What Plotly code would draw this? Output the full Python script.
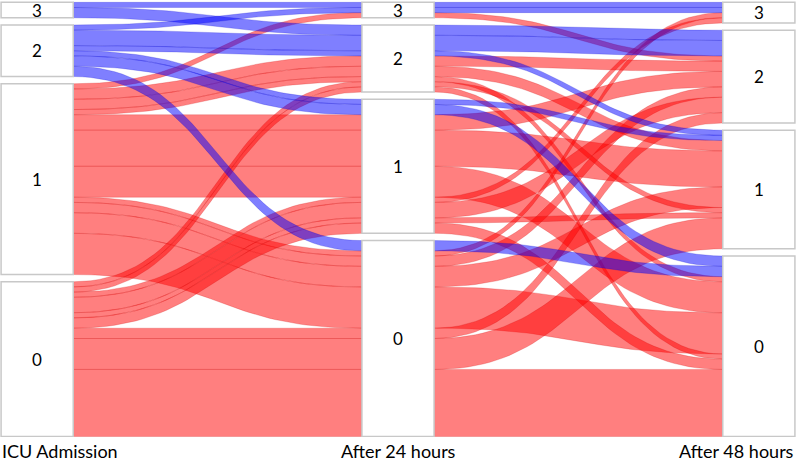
import numpy as np
import plotly.graph_objects as go

# ---------------- data ----------------
categories = ["0", "1", "2", "3"]
dimension_labels = ["ICU Admission", "After 24 hours", "After 48 hours"]

# one entry per patient path: score at admission, after 24 h, after 48 h, number of patients
path_admission = [3, 3, 2, 2, 2, 2, 2, 2, 1, 1, 1, 1, 1, 1, 1, 1, 1, 1, 1, 0, 0, 0, 0, 0, 0, 0, 0, 0]
path_24h       = [3, 2, 3, 2, 2, 1, 1, 0, 3, 2, 2, 2, 1, 1, 1, 0, 0, 0, 0, 2, 2, 1, 1, 1, 1, 0, 0, 0]
path_48h       = [3, 2, 3, 2, 1, 1, 0, 0, 2, 2, 1, 0, 2, 1, 0, 3, 2, 1, 0, 1, 0, 3, 2, 1, 0, 2, 1, 0]
path_count     = [1, 2, 1, 3, 1, 1, 2, 2, 1, 2, 2, 1, 3, 7, 6, 1, 2, 4, 8, 1, 1, 1, 3, 1, 2, 2, 6, 13]

# ---------------- style ----------------
GAP = 1.4          # gap between category boxes (in patient units)
BOX_W = 0.2        # box width (in dimension spacing units)
RED = "rgba(255,0,0,0.5)"
BLUE = "rgba(0,0,255,0.5)"
RED_EDGE = "rgba(200,0,0,0.35)"
BLUE_EDGE = "rgba(0,0,200,0.35)"
FONT = "Lato"

dims = [np.array(path_admission), np.array(path_24h), np.array(path_48h)]
counts = np.array(path_count, dtype=float)
n_paths = len(counts)
n_cat = len(categories)
n_dim = len(dims)

order = sorted(range(n_paths), key=lambda i: (-dims[0][i], -dims[1][i], -dims[2][i]))

y_top = np.zeros((n_dim, n_paths))
y_bot = np.zeros((n_dim, n_paths))
cat_bottoms, cat_tops = [], []
for k in range(n_dim):
    totals = np.array([counts[dims[k] == c].sum() for c in range(n_cat)])
    bottoms = np.concatenate([[0.0], np.cumsum(totals + GAP)[:-1]])
    tops = bottoms + totals
    cat_bottoms.append(bottoms)
    cat_tops.append(tops)
    cursor = tops.copy()
    for i in order:
        c = dims[k][i]
        y_top[k, i] = cursor[c]
        cursor[c] -= counts[i]
        y_bot[k, i] = cursor[c]

total_height = cat_tops[0][-1]

t = np.linspace(0, 1, 48)
s = 3 * t ** 2 - 2 * t ** 3


def ribbon(k, i):
    xa, xb = k + BOX_W, k + 1
    xm = (xa + xb) / 2
    bx = (1 - t) ** 3 * xa + 3 * (1 - t) ** 2 * t * xm + 3 * (1 - t) * t ** 2 * xm + t ** 3 * xb
    top = y_top[k, i] + (y_top[k + 1, i] - y_top[k, i]) * s
    bot = y_bot[k, i] + (y_bot[k + 1, i] - y_bot[k, i]) * s
    xs = np.concatenate([bx, bx[::-1], [bx[0]]])
    ys = np.concatenate([top, bot[::-1], [top[0]]])
    return xs, ys


fig = go.Figure()
# red paths first, blue (severe at admission) on top
for severe in (False, True):
    for k in range(n_dim - 1):
        for i in order:
            if (dims[0][i] >= 2) != severe:
                continue
            xs, ys = ribbon(k, i)
            fig.add_trace(go.Scatter(
                x=xs, y=ys, mode="lines", fill="toself",
                fillcolor=BLUE if severe else RED,
                line=dict(width=0.6, color=BLUE_EDGE if severe else RED_EDGE),
                hoverinfo="skip", showlegend=False,
            ))

shapes = []
annotations = []
for k in range(n_dim):
    for c in range(n_cat):
        shapes.append(dict(
            type="rect", xref="x", yref="y",
            x0=k, x1=k + BOX_W, y0=cat_bottoms[k][c], y1=cat_tops[k][c],
            line=dict(color="#c8c8c8", width=1.5), fillcolor="white", layer="above",
        ))
        annotations.append(dict(
            x=k + BOX_W / 2, y=(cat_bottoms[k][c] + cat_tops[k][c]) / 2,
            xref="x", yref="y", text=categories[c], showarrow=False,
            font=dict(family=FONT, size=17, color="black"), borderpad=0,
        ))

anchors = ["left", "center", "right"]
xpos = [0, 1 + BOX_W / 2, 2 + BOX_W]
for k in range(n_dim):
    annotations.append(dict(
        x=xpos[k], y=0, xref="x", yref="paper", yanchor="bottom", xanchor=anchors[k],
        yshift=-26, text=dimension_labels[k], showarrow=False, borderpad=0,
        font=dict(family=FONT, size=18, color="black"),
    ))

fig.update_layout(
    width=796, height=463,
    margin=dict(l=0, r=0, t=0, b=26),
    paper_bgcolor="white", plot_bgcolor="white",
    xaxis=dict(range=[-0.003, 2 + BOX_W + 0.003], visible=False, fixedrange=True),
    yaxis=dict(range=[-0.1, total_height + 0.45], visible=False, fixedrange=True),
    shapes=shapes, annotations=annotations, showlegend=False,
)

fig.write_html(
    "out.html",
    config={"displayModeBar": False},
    post_script="document.body.style.margin='0px';document.body.style.overflow='hidden';",
)
